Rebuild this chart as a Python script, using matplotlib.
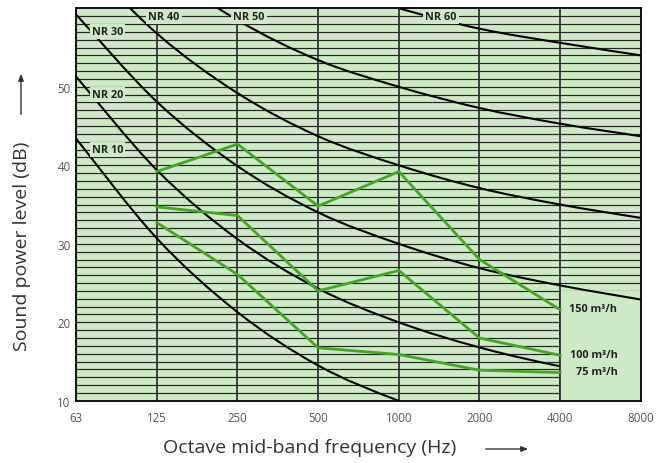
import numpy as np
import matplotlib.pyplot as plt
from matplotlib.path import Path
from matplotlib.patches import PathPatch, Rectangle, FancyArrowPatch

plt.rcParams['font.family'] = ['Open Sans', 'DejaVu Sans']

# octave bands
bands = ['63', '125', '250', '500', '1000', '2000', '4000', '8000']

# NR curves (dB per band)
nr_10 = [43.4, 30.7, 21.3, 14.5, 10.0, 6.6, 4.2, 2.2]
nr_20 = [51.3, 39.4, 30.6, 24.3, 20.0, 16.8, 14.4, 12.6]
nr_30 = [59.2, 48.1, 39.9, 34.0, 30.0, 26.9, 24.7, 22.9]
nr_40 = [67.1, 56.8, 49.2, 43.7, 40.0, 37.1, 35.0, 33.3]
nr_50 = [75.0, 65.5, 58.5, 53.4, 50.0, 47.3, 45.3, 43.7]
nr_60 = [82.9, 74.2, 67.8, 63.1, 60.0, 57.4, 55.6, 54.0]
nr_curves = [nr_10, nr_20, nr_30, nr_40, nr_50, nr_60]
nr_names = ['NR 10', 'NR 20', 'NR 30', 'NR 40', 'NR 50', 'NR 60']

# unit sound power, bands 125..4000
flow_bands = ['125', '250', '500', '1000', '2000', '4000']
flow_150 = [39.2, 42.7, 34.8, 39.2, 28.0, 21.6]
flow_100 = [34.7, 33.6, 24.0, 26.6, 18.0, 15.8]
flow_75 = [32.7, 26.1, 16.75, 15.9, 13.9, 13.6]
flow_names = ['150 m³/h', '100 m³/h', '75 m³/h']

# label placement (band index, dB)
nr_label_pos = [(0.39, 42), (0.39, 49), (0.39, 57), (1.09, 59), (2.14, 59), (4.52, 59)]

bg = '#cde9c5'
grid_col = '#262626'
green = '#42a81e'


def smooth_path(xs, ys):
    # catmull-rom through the points, as cubic bezier segments
    p = np.column_stack([xs, ys]).astype(float)
    p = np.vstack([p[0], p, p[-1]])
    verts = [p[1]]
    codes = [Path.MOVETO]
    for i in range(1, len(p) - 2):
        c1 = p[i] + (p[i + 1] - p[i - 1]) / 6
        c2 = p[i + 1] - (p[i + 2] - p[i]) / 6
        verts += [c1, c2, p[i + 1]]
        codes += [Path.CURVE4] * 3
    return Path(verts, codes)


fig = plt.figure(figsize=(6.62, 4.64), dpi=100)
ax = fig.add_axes([0.115, 0.134, 0.853, 0.846])
ax.set_facecolor(bg)

x = np.arange(len(bands))
xf = [bands.index(b) for b in flow_bands]

# horizontal 1 dB lines; the lower right corner is left open for labels
for v in range(11, 60):
    ax.hlines(v, 0, 7 if v >= 24 else 6, color=grid_col, lw=0.85, zorder=1)
for xi in x[1:-1]:
    ax.axvline(xi, color=grid_col, lw=1.2, zorder=2)

for i, vals in enumerate(nr_curves):
    ax.add_patch(PathPatch(smooth_path(x, vals), facecolor='none',
                           edgecolor='black', lw=1.5, zorder=3 if i < 2 else 4))
# label box covers the low curves beyond 4000 Hz
ax.add_patch(Rectangle((6, 10), 1, 14, facecolor=bg, edgecolor='none', zorder=3.5))
ax.vlines(6, 10, 24, color=grid_col, lw=1.2, zorder=3.6)

for name, (lx, ly) in zip(nr_names, nr_label_pos):
    ax.text(lx, ly, name, ha='center', va='center', fontsize=7.8, fontweight='bold',
            color='#222222', zorder=5,
            bbox=dict(facecolor=bg, edgecolor='none', pad=1.5))

for vals, name in zip([flow_150, flow_100, flow_75], flow_names):
    ax.plot(xf, vals, color=green, lw=2, zorder=4.5, solid_joinstyle='miter')
    ax.text(6.71, vals[-1] + 0.1, name, ha='right', va='center', fontsize=7.8,
            fontweight='bold', color='#222222', zorder=5)

ax.set_xlim(0, 7)
ax.set_ylim(10, 60)
ax.set_xticks(x)
ax.set_xticklabels(bands)
ax.set_yticks([10, 20, 30, 40, 50])
ax.tick_params(length=0, labelsize=8.3, labelcolor='#555555', pad=4)
ax.tick_params(axis='x', pad=7)
for s in ax.spines.values():
    s.set_linewidth(1.3)
    s.set_zorder(6)

fig.text(0.033, 0.47, 'Sound power level (dB)', rotation=90, ha='center', va='center',
         fontsize=14, color='#333333')
fig.text(0.468, 0.034, 'Octave mid-band frequency (Hz)', ha='center', va='center',
         fontsize=14, color='#333333')
fig.patches.append(FancyArrowPatch(
    (21 / 662, 1 - 118 / 464), (21 / 662, 1 - 72 / 464), transform=fig.transFigure,
    arrowstyle='-|>,head_length=4,head_width=1.6', color='#333333', lw=1))
fig.patches.append(FancyArrowPatch(
    (483 / 662, 1 - 450 / 464), (531 / 662, 1 - 450 / 464), transform=fig.transFigure,
    arrowstyle='-|>,head_length=4,head_width=1.6', color='#333333', lw=1))

fig.savefig('out.png', dpi=100)
